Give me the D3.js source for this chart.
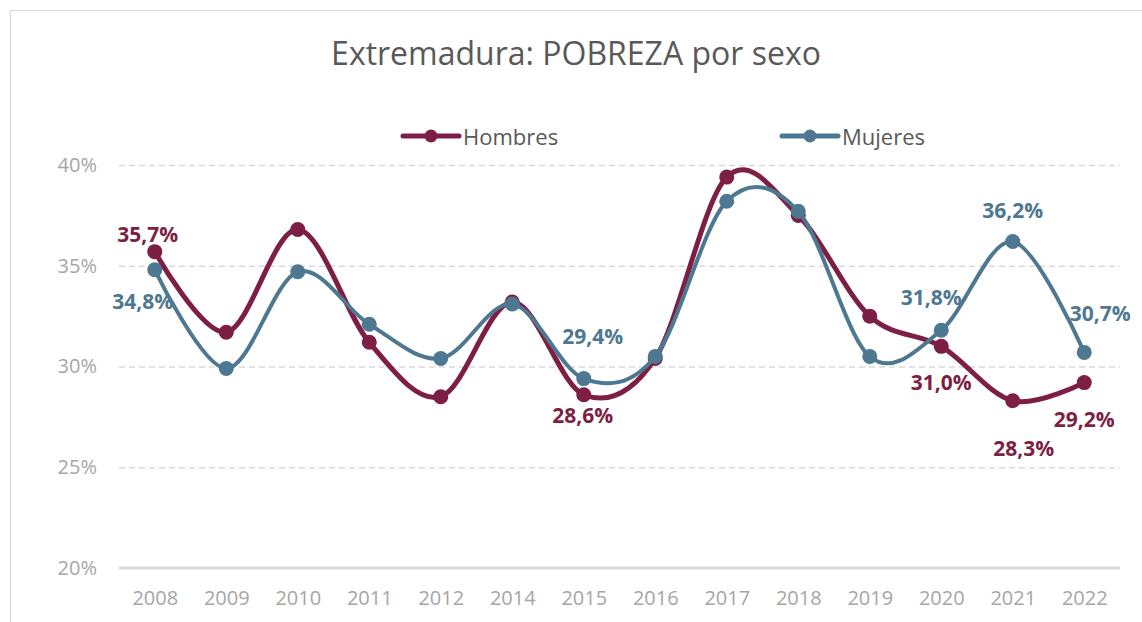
<!DOCTYPE html>
<html>
<head>
<meta charset="utf-8">
<script src="https://cdn.jsdelivr.net/npm/d3@7"></script>
<style>
  html, body { margin: 0; padding: 0; background: #fff; }
  svg { display: block; font-family: "Open Sans", sans-serif; }
  .grid line { stroke: #d9d9d9; stroke-width: 1.5; stroke-dasharray: 6 4; }
  .grid path { display: none; }
  .axis path { display: none; }
  .axis text { fill: #a6a6a6; font-size: 20px; font-family: "Open Sans", sans-serif; }
</style>
</head>
<body>
<div id="chart"></div>
<script>
var years = ['2008', '2009', '2010', '2011', '2012', '2014', '2015', '2016', '2017', '2018', '2019', '2020', '2021', '2022']
var hombres = [35.7, 31.7, 36.8, 31.2, 28.5, 33.2, 28.6, 30.4, 39.4, 37.5, 32.5, 31.0, 28.3, 29.2]
var mujeres = [34.8, 29.9, 34.7, 32.1, 30.4, 33.1, 29.4, 30.5, 38.2, 37.7, 30.5, 31.8, 36.2, 30.7]
var yTicks = [20, 25, 30, 35, 40]

var width = 1142,
    height = 622,
    margin = {top: 165, bottom: 54, left: 119, right: 22}

var colors = { hombres: '#7d1f45', mujeres: '#4e7891' }

// where each data label sits, relative to its point (only the labelled years)
var labelPlacement = {
  hombres: { '2008': [-7, -18], '2015': [-1, 20], '2020': [0, 36], '2021': [11, 47], '2022': [0, 36] },
  mujeres: { '2008': [-12, 31], '2015': [9, -43], '2020': [-10, -33], '2021': [0, -32], '2022': [16, -39] }
}

var svg = d3.select('#chart').append('svg').attr('width', width).attr('height', height)

// marco exterior
svg.append('rect')
  .attr('x', 10.5).attr('y', 10.5)
  .attr('width', width).attr('height', height)
  .attr('fill', 'none').attr('stroke', '#d9d9d9').attr('stroke-width', 1)

var x = d3.scalePoint().domain(years).range([margin.left, width - margin.right]).padding(0.5)
var y = d3.scaleLinear().domain([20, 40]).range([height - margin.bottom, margin.top])

// lineas de cuadricula
svg.append('g')
  .classed('grid', true)
  .attr('transform', 'translate(' + margin.left + ',0)')
  .call(d3.axisLeft(y).tickValues(yTicks.slice(1)).tickSize(-(width - margin.left - margin.right)).tickFormat(''))

// linea base 20%
svg.append('line')
  .attr('x1', margin.left).attr('x2', width - margin.right)
  .attr('y1', y(20)).attr('y2', y(20))
  .attr('stroke', '#d9d9d9').attr('stroke-width', 3)

// eje Y
svg.append('g')
  .classed('axis', true)
  .attr('transform', 'translate(' + (margin.left - 22) + ',0)')
  .call(d3.axisLeft(y).tickValues(yTicks).tickSize(0).tickPadding(0).tickFormat(d => d + '%'))

// eje X
svg.append('g')
  .classed('axis', true)
  .attr('transform', 'translate(0,' + (height - margin.bottom + 20) + ')')
  .call(d3.axisBottom(x).tickSize(0).tickPadding(3))

// titulo
svg.append('text')
  .text('Extremadura: POBREZA por sexo')
  .attr('x', 576).attr('y', 65)
  .attr('text-anchor', 'middle')
  .attr('font-size', 32)
  .attr('fill', '#595959')

// leyenda
function legendItem (lx, name, color) {
  var g = svg.append('g').attr('transform', 'translate(' + lx + ',136)')
  g.append('line').attr('x1', 0).attr('x2', 56).attr('y1', 0).attr('y2', 0)
    .attr('stroke', color).attr('stroke-width', 5).attr('stroke-linecap', 'round')
  g.append('circle').attr('cx', 28).attr('cy', 0).attr('r', 6.5).attr('fill', color)
  g.append('text').text(name).attr('x', 60).attr('y', 0)
    .attr('dominant-baseline', 'central')
    .attr('font-size', 22).attr('fill', '#595959')
}
legendItem(403, 'Hombres', colors.hombres)
legendItem(782, 'Mujeres', colors.mujeres)

var line = d3.line()
  .x((d, i) => x(years[i]))
  .y(d => y(d))
  .curve(d3.curveCatmullRom.alpha(0))

function drawSeries (values, color, strokeW) {
  svg.append('path')
    .datum(values)
    .attr('d', line)
    .attr('fill', 'none')
    .attr('stroke', color)
    .attr('stroke-width', strokeW)
    .attr('stroke-linejoin', 'round')
  svg.append('g').selectAll('circle')
    .data(values)
    .enter().append('circle')
    .attr('cx', (d, i) => x(years[i]))
    .attr('cy', d => y(d))
    .attr('r', 7.5)
    .attr('fill', color)
}

function drawLabels (values, color, placement) {
  years.forEach((yr, i) => {
    var p = placement[yr]
    if (!p) return
    svg.append('text')
      .text(values[i].toFixed(1).replace('.', ',') + '%')
      .attr('x', x(yr) + p[0])
      .attr('y', y(values[i]) + p[1])
      .attr('text-anchor', 'middle')
      .attr('dominant-baseline', 'central')
      .attr('font-size', 21)
      .attr('font-weight', 'bold')
      .attr('fill', color)
  })
}

drawSeries(hombres, colors.hombres, 5)
drawSeries(mujeres, colors.mujeres, 4)
drawLabels(hombres, colors.hombres, labelPlacement.hombres)
drawLabels(mujeres, colors.mujeres, labelPlacement.mujeres)
</script>
</body>
</html>
